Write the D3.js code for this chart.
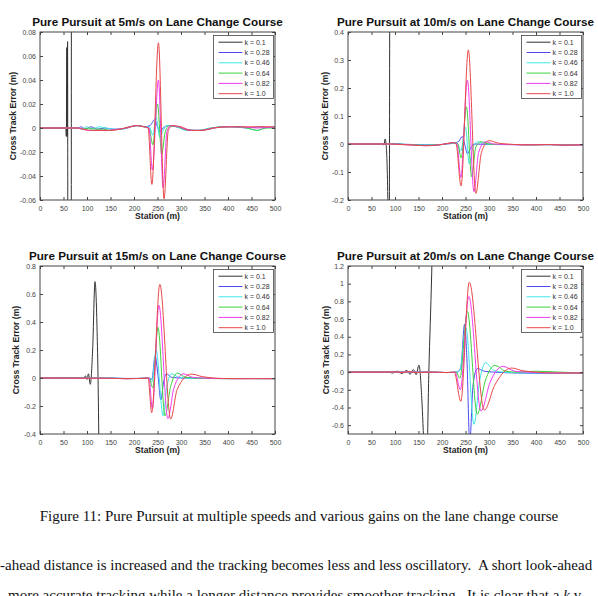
<!DOCTYPE html>
<html>
<head>
<meta charset="utf-8">
<script src="https://cdn.jsdelivr.net/npm/d3@7"></script>
<style>
body { margin: 0; background: #fff; }
svg text { font-family: "Liberation Sans", Arial, sans-serif; }
svg text.doc { font-family: "Liberation Serif", "Times New Roman", serif; white-space: pre; }
</style>
</head>
<body>
<div id="fig"></div>
<script>
// legend entries and the usual matlab line colours
var gains = ["k = 0.1", "k = 0.28", "k = 0.46", "k = 0.64", "k = 0.82", "k = 1.0"];
var gainColors = ["#333333", "#4b4bf0", "#3fe6e6", "#3cd23c", "#f03cf0", "#e84848"];
var speeds = [5, 10, 15, 20];

var stationTicks = [0, 50, 100, 150, 200, 250, 300, 350, 400, 450, 500];
var yTicks5 = [-0.06, -0.04, -0.02, 0, 0.02, 0.04, 0.06, 0.08];
var yTicks10 = [-0.2, -0.1, 0, 0.1, 0.2, 0.3, 0.4];
var yTicks15 = [-0.4, -0.2, 0, 0.2, 0.4, 0.6, 0.8];
var yTicks20 = [-0.6, -0.4, -0.2, 0, 0.2, 0.4, 0.6, 0.8, 1, 1.2];
var yRange5 = [-0.06, 0.08];
var yRange10 = [-0.2, 0.4];
var yRange15 = [-0.4, 0.8];
var yRange20 = [-0.7, 1.2];

// [station (m), cross track error (m)]

// 5 m/s
var e5_k010 = [[0,0],[55,0],[56,-0.007],[57,0.067],[57.8,-0.007],[58.7,0.072],[59.5,-0.3],[63,-1.5],[67,0.3],[68,2]];
var e5_k028 = [[0,0],[80,0],[88,0.001],[96,-0.001],[108,0.001],[122,-0.001],[138,0],[155,-0.001],[172,-0.001],[190,0.001],[207,0.002],[222,0.001],[234,0.002],[244,0.007],[250,0.001],[255,-0.003],[262,0],[272,0.002],[290,0.001],[310,-0.001],[335,-0.002],[360,-0.001],[385,0.001],[410,0.001],[440,0],[465,0.001],[500,0]];
var e5_k046 = [[0,0],[80,0],[90,-0.001],[98,0.001],[110,-0.001],[125,0.001],[140,0],[158,-0.001],[175,-0.001],[192,0.001],[208,0.002],[224,0.001],[233,0.001],[240,-0.006],[247,0.009],[255,-0.008],[262,-0.002],[270,0.002],[290,0.001],[312,-0.002],[336,-0.002],[362,0],[390,0.001],[415,0.001],[440,0],[462,-0.002],[480,0],[500,0.001]];
var e5_k064 = [[0,0],[80,0],[92,-0.001],[104,0],[118,-0.001],[135,-0.001],[150,-0.002],[168,-0.001],[186,0],[205,0.002],[220,0.001],[232,0],[240,-0.014],[250,0.02],[259,-0.022],[266,-0.004],[274,0.002],[292,0.001],[315,-0.002],[340,-0.002],[365,0],[395,0.001],[425,0.001],[450,-0.001],[462,-0.002],[480,0],[500,0]];
var e5_k082 = [[0,0],[80,0],[90,-0.001],[105,-0.002],[125,-0.002],[145,-0.002],[165,-0.001],[185,0],[205,0.002],[222,0.001],[232,0],[239,-0.035],[252,0.04],[262,-0.05],[270,-0.003],[278,0.002],[295,0.001],[318,-0.002],[342,-0.002],[368,0],[400,0.001],[430,0.001],[460,0],[500,0.001]];
var e5_k100 = [[0,0],[80,0],[92,-0.001],[110,-0.002],[130,-0.002],[150,-0.002],[170,-0.001],[190,0.001],[207,0.002],[222,0.001],[230,0],[238,-0.047],[252,0.071],[264,-0.059],[273,-0.002],[282,0.002],[300,0.001],[322,-0.002],[345,-0.002],[370,0],[400,0.001],[430,0.001],[460,0.001],[500,0.001]];

// 10 m/s
var e10_k010 = [[0,0],[74,0],[76.5,-0.004],[79,0.018],[81,0],[85,-0.22],[86.5,-1.2],[88.5,0.2],[89.5,1.5]];
var e10_k028 = [[0,0],[90,0],[105,0.001],[120,-0.001],[140,-0.002],[165,-0.003],[190,-0.003],[210,0],[225,0.003],[236,0.01],[243,0.027],[249,-0.005],[254,-0.035],[262,-0.01],[270,0],[290,-0.001],[320,-0.002],[350,-0.002],[380,-0.003],[410,-0.002],[440,-0.003],[470,-0.004],[500,-0.003]];
var e10_k046 = [[0,0],[90,0],[110,-0.001],[135,-0.002],[160,-0.004],[185,-0.004],[208,0],[224,0.004],[233,0.002],[240,-0.025],[250,0.06],[258,-0.07],[266,-0.01],[276,0.008],[290,0.001],[320,-0.002],[350,-0.002],[380,-0.002],[410,-0.003],[440,-0.002],[470,-0.003],[500,-0.002]];
var e10_k064 = [[0,0],[90,0],[112,-0.001],[138,-0.003],[162,-0.005],[188,-0.004],[210,0.001],[225,0.005],[233,0.002],[241,-0.05],[252,0.133],[263,-0.117],[272,-0.01],[283,0.008],[300,0],[330,-0.002],[360,-0.002],[390,-0.003],[420,-0.002],[450,-0.003],[480,-0.003],[500,-0.002]];
var e10_k082 = [[0,0],[90,0],[115,-0.002],[140,-0.004],[165,-0.006],[190,-0.004],[212,0.002],[226,0.005],[232,0],[240,-0.12],[254,0.228],[268,-0.17],[278,-0.03],[292,0.008],[310,0],[340,-0.002],[370,-0.003],[400,-0.003],[430,-0.002],[460,-0.004],[500,-0.003]];
var e10_k100 = [[0,0],[90,0],[115,-0.002],[140,-0.004],[165,-0.006],[190,-0.004],[212,0.002],[225,0.005],[230,0],[240.5,-0.15],[256,0.336],[272,-0.176],[284,-0.03],[300,0.012],[320,0.003],[340,0],[370,-0.003],[400,-0.003],[430,-0.002],[460,-0.004],[500,-0.003]];

// 15 m/s
var e15_k010 = [[0,0],[92,0],[97,0.015],[100,-0.01],[103,0.03],[107,-0.045],[112,0.2],[117,0.688],[121,0.4],[125,-0.4],[127,-1.2]];
var e15_k028 = [[0,0],[150,0],[180,-0.003],[210,-0.003],[232,0],[238,-0.01],[245,0.157],[251,0.02],[257,-0.157],[263,-0.03],[269,0.03],[280,0.005],[300,0],[340,-0.002],[380,-0.004],[420,-0.004],[460,-0.004],[500,-0.004]];
var e15_k046 = [[0,0],[150,0],[185,-0.004],[215,-0.003],[232,0],[238,-0.03],[247,0.2],[262,-0.27],[270,-0.06],[280,0.03],[295,0.005],[310,0],[350,-0.003],[390,-0.004],[430,-0.004],[470,-0.005],[500,-0.004]];
var e15_k064 = [[0,0],[150,-0.002],[185,-0.005],[215,-0.003],[232,0],[240,-0.07],[251,0.362],[266,-0.27],[278,-0.06],[292,0.035],[310,0.005],[330,0],[370,-0.004],[410,-0.005],[450,-0.004],[500,-0.005]];
var e15_k082 = [[0,0],[150,-0.002],[185,-0.005],[215,-0.003],[232,0],[239,-0.22],[253,0.52],[272,-0.29],[285,-0.07],[305,0.03],[325,0.005],[345,0],[380,-0.004],[420,-0.005],[460,-0.004],[500,-0.005]];
var e15_k100 = [[0,0],[150,-0.002],[185,-0.005],[215,-0.003],[230,0],[237.6,-0.248],[255,0.669],[278,-0.293],[292,-0.08],[322,0.028],[345,0.01],[370,0],[400,-0.004],[440,-0.005],[500,-0.005]];

// 20 m/s
var e20_k010 = [[0,0],[85,0],[95,-0.01],[105,0.01],[115,-0.015],[125,0.02],[132,-0.025],[139,0.03],[145,-0.03],[151,0.08],[157,-0.3],[162,-0.9],[166,-1.4],[172,0],[178,1.1],[182,2]];
var e20_k028 = [[0,0],[180,0],[210,-0.005],[232,0],[240,0.05],[248,0.54],[253,0.15],[259,-0.8],[266,-0.15],[275,0.04],[290,0.01],[310,0],[360,-0.01],[420,-0.015],[500,-0.015]];
var e20_k046 = [[0,0],[180,0],[210,-0.005],[232,0],[238,0.02],[251,0.5],[268,-0.59],[280,-0.1],[293,0.107],[310,0.02],[330,0],[380,-0.01],[440,-0.012],[500,-0.015]];
var e20_k064 = [[0,0],[180,0],[210,-0.005],[230,0],[238,-0.07],[254,0.686],[275,-0.476],[292,-0.1],[313,0.076],[335,0.01],[360,0],[400,0.01],[450,0],[500,-0.01]];
var e20_k082 = [[0,0],[180,0],[210,-0.005],[228,0],[239,-0.2],[257,0.857],[283,-0.44],[302,-0.12],[330,0.065],[355,0.01],[380,0],[420,-0.01],[460,-0.01],[500,-0.01]];
var e20_k100 = [[0,0],[85,0],[100,0.005],[115,-0.005],[130,0.005],[145,-0.005],[180,0],[210,-0.005],[226,0],[240,-0.33],[258,1.017],[290,-0.43],[312,-0.15],[348,0.046],[372,0.015],[400,0],[440,-0.01],[500,-0.01]];

var captionText = "Figure 11: Pure Pursuit at multiple speeds and various gains on the lane change course";
var bodyLine1 = "-ahead distance is increased and the tracking becomes less and less oscillatory.  A short look-ahead";
var bodyLine2 = "more accurate tracking while a longer distance provides smoother tracking.  It is clear that a ";

var W = 598, H = 596;
var pw = 235, ph = 168;

var svg = d3.select("#fig").append("svg")
	.attr("width", W)
	.attr("height", H)
	.style("display", "block");

svg.append("rect").attr("width", W).attr("height", H).attr("fill", "#fff");

var panels = [
	{series: [e5_k010, e5_k028, e5_k046, e5_k064, e5_k082, e5_k100], ticks: yTicks5, range: yRange5, left: 40, top: 32, ylab: 24},
	{series: [e10_k010, e10_k028, e10_k046, e10_k064, e10_k082, e10_k100], ticks: yTicks10, range: yRange10, left: 348, top: 32, ylab: 20},
	{series: [e15_k010, e15_k028, e15_k046, e15_k064, e15_k082, e15_k100], ticks: yTicks15, range: yRange15, left: 40, top: 266, ylab: 21},
	{series: [e20_k010, e20_k028, e20_k046, e20_k064, e20_k082, e20_k100], ticks: yTicks20, range: yRange20, left: 348, top: 266, ylab: 19}
];

panels.forEach(function(p, i) {
	var g = svg.append("g").attr("transform", "translate(" + p.left + "," + p.top + ")");

	var x = d3.scaleLinear().domain([0, 500]).range([0, pw]);
	var y = d3.scaleLinear().domain(p.range).range([ph, 0]);

	g.append("clipPath").attr("id", "clip" + i)
		.append("rect").attr("width", pw).attr("height", ph);

	// title
	g.append("text")
		.attr("x", pw / 2).attr("y", -6.5)
		.attr("text-anchor", "middle")
		.style("font-size", "11.7px").style("font-weight", "bold")
		.attr("fill", "#111")
		.text("Pure Pursuit at " + speeds[i] + "m/s on Lane Change Course");

	// lines
	var line = d3.line()
		.x(function(d) { return x(d[0]); })
		.y(function(d) { return y(d[1]); })
		.curve(d3.curveMonotoneX);

	var lines = g.append("g").attr("clip-path", "url(#clip" + i + ")");
	p.series.forEach(function(s, j) {
		lines.append("path")
			.datum(s)
			.attr("fill", "none")
			.attr("stroke", gainColors[j])
			.attr("stroke-width", 1)
			.attr("d", line);
	});

	// axes, ticks pointing inward like matlab
	var tickStyle = function(sel) {
		sel.select(".domain").remove();
		sel.selectAll("line").attr("stroke", "#444");
		sel.selectAll("text").attr("fill", "#444").style("font-size", "7px");
	};
	g.append("g").attr("transform", "translate(0," + ph + ")")
		.call(d3.axisBottom(x).tickValues(stationTicks).tickSizeInner(-3).tickSizeOuter(0).tickPadding(6.5).tickFormat(d3.format("d")))
		.call(tickStyle);
	g.append("g")
		.call(d3.axisTop(x).tickValues(stationTicks).tickSizeInner(-3).tickSizeOuter(0).tickFormat(""))
		.call(tickStyle);
	g.append("g")
		.call(d3.axisLeft(y).tickValues(p.ticks).tickSizeInner(-3).tickSizeOuter(0).tickPadding(4).tickFormat(function(d) { return String(+d.toFixed(2)); }))
		.call(tickStyle);
	g.append("g").attr("transform", "translate(" + pw + ",0)")
		.call(d3.axisRight(y).tickValues(p.ticks).tickSizeInner(-3).tickSizeOuter(0).tickFormat(""))
		.call(tickStyle);

	g.append("rect")
		.attr("width", pw).attr("height", ph)
		.attr("fill", "none").attr("stroke", "#444").attr("stroke-width", 1);

	// axis labels
	g.append("text")
		.attr("x", pw / 2).attr("y", ph + 19)
		.attr("text-anchor", "middle")
		.style("font-size", "8.6px").style("font-weight", "bold")
		.attr("fill", "#222")
		.text("Station (m)");
	g.append("text")
		.attr("transform", "translate(" + (-p.ylab) + "," + (ph / 2) + ") rotate(-90)")
		.attr("text-anchor", "middle")
		.style("font-size", "8.6px").style("font-weight", "bold")
		.attr("fill", "#222")
		.text("Cross Track Error (m)");

	// legend
	var lg = g.append("g").attr("transform", "translate(" + (pw - 61.5) + ",3.5)");
	lg.append("rect")
		.attr("width", 60).attr("height", 63)
		.attr("fill", "#fff").attr("stroke", "#444").attr("stroke-width", 0.8);
	gains.forEach(function(k, j) {
		var ly = 6.7 + j * 10.3;
		lg.append("line")
			.attr("x1", 5).attr("x2", 29).attr("y1", ly).attr("y2", ly)
			.attr("stroke", gainColors[j]).attr("stroke-width", 1);
		lg.append("text")
			.attr("x", 31).attr("y", ly + 2.5)
			.style("font-size", "7px").attr("fill", "#333")
			.text(k);
	});
});

// caption and running text of the page
svg.append("text").attr("class", "doc")
	.attr("x", W / 2).attr("y", 521)
	.attr("text-anchor", "middle")
	.style("font-size", "15px").attr("fill", "#111")
	.text(captionText);

svg.append("text").attr("class", "doc")
	.attr("x", 0).attr("y", 570)
	.style("font-size", "15px").attr("fill", "#111")
	.text(bodyLine1);

var l2 = svg.append("text").attr("class", "doc")
	.attr("x", 8).attr("y", 600)
	.style("font-size", "15px").attr("fill", "#111");
l2.append("tspan").text(bodyLine2);
l2.append("tspan").style("font-style", "italic").text("k");
l2.append("tspan").text(" v");
</script>
</body>
</html>
